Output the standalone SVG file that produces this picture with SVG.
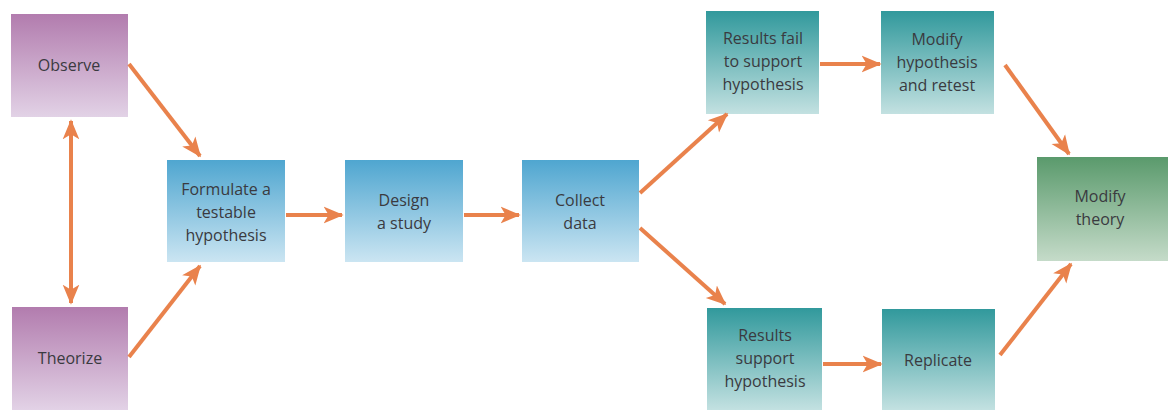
<svg xmlns="http://www.w3.org/2000/svg" width="1168" height="410" viewBox="0 0 1168 410">
<defs>
<linearGradient id="gP" x1="0" y1="0" x2="0" y2="1"><stop offset="0" stop-color="#b27cae"/><stop offset="1" stop-color="#e2d2e6"/></linearGradient>
<linearGradient id="gB" x1="0" y1="0" x2="0" y2="1"><stop offset="0" stop-color="#4fa6d0"/><stop offset="1" stop-color="#cbe5f2"/></linearGradient>
<linearGradient id="gT" x1="0" y1="0" x2="0" y2="1"><stop offset="0" stop-color="#31999c"/><stop offset="1" stop-color="#c3e1e1"/></linearGradient>
<linearGradient id="gG" x1="0" y1="0" x2="0" y2="1"><stop offset="0" stop-color="#5a9a6c"/><stop offset="1" stop-color="#c5dbc9"/></linearGradient>
<marker id="ah" viewBox="0 0 12 10" refX="11" refY="5" markerWidth="5" markerHeight="5" markerUnits="strokeWidth" orient="auto-start-reverse"><path d="M0,0 L12,5 L0,10 L3,5 Z" fill="#e9824c"/></marker>
</defs>
<style>
text{font-family:"Open Sans","Liberation Sans",sans-serif;font-size:16px;fill:#3a3a40;text-anchor:middle}
.c{stroke:#e9824c;stroke-width:4;fill:none;marker-end:url(#ah)}
</style>
<rect width="1168" height="410" fill="#ffffff"/>
<g id="observe"><rect x="11" y="14" width="117" height="103" fill="url(#gP)"/><text x="69" y="71">Observe</text></g>
<g id="theorize"><rect x="12" y="307" width="116" height="103" fill="url(#gP)"/><text x="70" y="364">Theorize</text></g>
<g id="formulate"><rect x="167" y="160" width="118" height="102" fill="url(#gB)"/><text x="226" y="195">Formulate a</text><text x="226" y="218">testable</text><text x="226" y="241">hypothesis</text></g>
<g id="design"><rect x="345" y="160" width="118" height="102" fill="url(#gB)"/><text x="404" y="206">Design</text><text x="404" y="229">a study</text></g>
<g id="collect"><rect x="522" y="160" width="117" height="102" fill="url(#gB)"/><text x="580" y="206">Collect</text><text x="580" y="229">data</text></g>
<g id="fail"><rect x="706" y="11" width="113" height="103" fill="url(#gT)"/><text x="763" y="44">Results fail</text><text x="763" y="67">to support</text><text x="763" y="90">hypothesis</text></g>
<g id="modhyp"><rect x="881" y="11" width="113" height="103" fill="url(#gT)"/><text x="937" y="45">Modify</text><text x="937" y="68">hypothesis</text><text x="937" y="91">and retest</text></g>
<g id="support"><rect x="707" y="308" width="115" height="102" fill="url(#gT)"/><text x="765" y="341">Results</text><text x="765" y="364">support</text><text x="765" y="387">hypothesis</text></g>
<g id="replicate"><rect x="882" y="309" width="113" height="101" fill="url(#gT)"/><text x="938" y="366">Replicate</text></g>
<g id="theory"><rect x="1037" y="157" width="131" height="104" fill="url(#gG)"/><text x="1100" y="202">Modify</text><text x="1100" y="225">theory</text></g>
<g id="connectors">
<line class="c" x1="129" y1="64" x2="200" y2="156"/>
<line class="c" x1="129" y1="357" x2="200" y2="266"/>
<line class="c" x1="71" y1="121" x2="71" y2="303" marker-start="url(#ah)"/>
<line class="c" x1="286" y1="215" x2="342" y2="215"/>
<line class="c" x1="464" y1="215" x2="519" y2="215"/>
<line class="c" x1="640" y1="193" x2="727" y2="114"/>
<line class="c" x1="640" y1="228" x2="725" y2="304"/>
<line class="c" x1="820" y1="64" x2="880" y2="64"/>
<line class="c" x1="1005" y1="65" x2="1069" y2="154"/>
<line class="c" x1="823" y1="364" x2="881" y2="364"/>
<line class="c" x1="1000" y1="355" x2="1071" y2="264"/>
</g>
</svg>
